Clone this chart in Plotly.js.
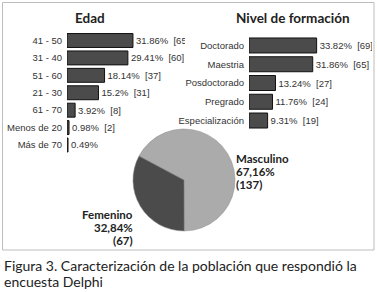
<!DOCTYPE html>
<html><head><meta charset="utf-8">
<script src="https://cdn.plot.ly/plotly-3.0.1.min.js"></script>
<style>html,body{margin:0;padding:0;background:#fff;}#chart{width:377px;height:292px;}</style>
</head><body><div id="chart"></div>
<script>
// Edad
const edadCats = ['41 - 50','31 - 40','51 - 60','21 - 30','61 - 70','Menos de 20','Más de 70'];
const edadPct = [31.86, 29.41, 18.14, 15.2, 3.92, 0.98, 0.49];
const edadN = [65, 60, 37, 31, 8, 2, null];
// Nivel de formación
const nivelCats = ['Doctorado','Maestria','Posdoctorado','Pregrado','Especialización'];
const nivelPct = [33.82, 31.86, 13.24, 11.76, 9.31];
const nivelN = [69, 65, 27, 24, 19];
// Género
const generoLabels = ['Masculino','Femenino'];
const generoN = [137, 67];
const generoPctText = ['67,16%','32,84%'];

const titles = ['Edad','Nivel de formación'];
const caption = ['Figura 3. Caracterización de la población que respondió la','encuesta Delphi'];

const W = 377, H = 292;
const px = x => x / W;
const py = y => 1 - y / H;

const barText = (p, n) => p.map((v, i) => n[i] == null ? v + '%' : v + '%  [' + n[i] + ']');
const barFont = {family: 'Liberation Sans, Arial, sans-serif', size: 9.5, color: '#333'};

const traces = [
  {type: 'bar', orientation: 'h', x: edadPct, y: edadCats, xaxis: 'x', yaxis: 'y',
   width: 0.8, marker: {color: '#4b4b4b', line: {color: '#111', width: 1}},
   text: barText(edadPct, edadN), textposition: 'outside', constraintext: 'none',
   cliponaxis: true, textfont: barFont, hoverinfo: 'none'},
  {type: 'bar', orientation: 'h', x: nivelPct, y: nivelCats, xaxis: 'x2', yaxis: 'y2',
   width: 0.8, marker: {color: '#4b4b4b', line: {color: '#111', width: 1}},
   text: barText(nivelPct, nivelN), textposition: 'outside', constraintext: 'none',
   cliponaxis: true, textfont: barFont, hoverinfo: 'none'},
  {type: 'pie', labels: generoLabels, values: generoN, sort: false, direction: 'clockwise',
   rotation: -62, textinfo: 'none', hoverinfo: 'none',
   marker: {colors: ['#ababab', '#4b4b4b'], line: {color: '#8a8a8a', width: 0.5}},
   domain: {x: [px(133), px(235)], y: [py(231), py(129)]}}
];

const axBase = {showgrid: false, zeroline: false, showline: false, ticks: '', fixedrange: true};
const tickFont = {family: 'Liberation Sans, Arial, sans-serif', size: 9.5, color: '#333'};

const ann = [];
ann.push({text: '<b>' + titles[0] + '</b>', x: px(90), y: py(18), xref: 'paper', yref: 'paper',
  showarrow: false, xanchor: 'center', yanchor: 'middle', font: {family: 'Lato, sans-serif', size: 13.5, color: '#222'}});
ann.push({text: '<b>' + titles[1] + '</b>', x: px(292.5), y: py(18), xref: 'paper', yref: 'paper',
  showarrow: false, xanchor: 'center', yanchor: 'middle', font: {family: 'Lato, sans-serif', size: 13.5, color: '#222'}});
// pie labels
const pieFont = {family: 'Lato, sans-serif', size: 11.5, color: '#222'};
const mLines = [generoLabels[0], generoPctText[0], '(' + generoN[0] + ')'];
const mY = [158, 171, 184];
mLines.forEach((t, i) => ann.push({text: '<b>' + t + '</b>', x: px(235), y: py(mY[i]), xref: 'paper', yref: 'paper',
  showarrow: false, xanchor: 'left', yanchor: 'middle', borderpad: 0, font: pieFont}));
const fLines = [generoLabels[1], generoPctText[1], '(' + generoN[1] + ')'];
const fY = [214.5, 227.5, 240.5];
fLines.forEach((t, i) => ann.push({text: '<b>' + t + '</b>', x: px(134), y: py(fY[i]), xref: 'paper', yref: 'paper',
  showarrow: false, xanchor: 'right', yanchor: 'middle', borderpad: 0, font: pieFont}));
// caption
const cY = [265, 281];
caption.forEach((t, i) => ann.push({text: t, x: px(2), y: py(cY[i]), xref: 'paper', yref: 'paper',
  showarrow: false, xanchor: 'left', yanchor: 'middle', font: {family: 'Lato, sans-serif', size: 14, color: '#222'}}));

const layout = {
  width: W, height: H, margin: {l: 0, r: 0, t: 0, b: 0},
  paper_bgcolor: '#fff', plot_bgcolor: 'rgba(0,0,0,0)', showlegend: false,
  xaxis: Object.assign({}, axBase, {domain: [px(67), px(185)], range: [0, 57], showticklabels: false}),
  yaxis: Object.assign({}, axBase, {domain: [py(153.7), py(31.8)], type: 'category', range: [6.5, -0.5],
    tickfont: tickFont, ticklabelstandoff: 4, anchor: 'x'}),
  xaxis2: Object.assign({}, axBase, {domain: [px(249), px(372)], range: [0, 61.5], showticklabels: false, anchor: 'y2'}),
  yaxis2: Object.assign({}, axBase, {domain: [py(129.9), py(36.1)], type: 'category', range: [4.5, -0.5],
    tickfont: tickFont, ticklabelstandoff: 4, anchor: 'x2'}),
  shapes: [{type: 'rect', xref: 'paper', yref: 'paper', x0: px(2.5), x1: px(374), y0: py(250), y1: py(2.5),
    line: {color: '#bdbdbd', width: 1}, fillcolor: 'rgba(0,0,0,0)'}],
  annotations: ann
};

Plotly.newPlot('chart', traces, layout, {displayModeBar: false, staticPlot: true});
</script></body></html>
